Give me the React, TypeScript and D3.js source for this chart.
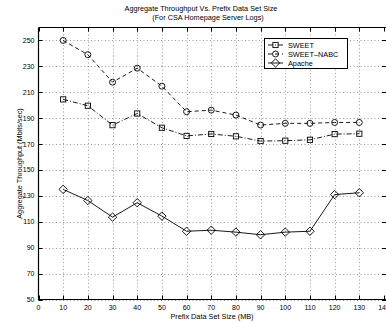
import React, { useRef, useEffect } from "react";
import * as d3 from "d3";

const sizes = [10, 20, 30, 40, 50, 60, 70, 80, 90, 100, 110, 120, 130];
const sweet = [204.5, 199.6, 184.6, 193.6, 182.6, 176.3, 177.8, 176, 172.3, 172.6, 173.3, 177.7, 178];
const sweetNabc = [250, 239, 217.8, 228.6, 214.7, 195, 196.2, 192.4, 184.7, 186, 186, 186.7, 186.7];
const apache = [135, 126.4, 113.6, 124.7, 114.4, 102.7, 103.5, 102, 100, 102, 102.7, 131, 132.4];
const xTicks = [0, 10, 20, 30, 40, 50, 60, 70, 80, 90, 100, 110, 120, 130, 140];
const yTicks = [50, 70, 90, 110, 130, 150, 170, 190, 210, 230, 250];
const seriesNames = ["SWEET", "SWEET\u2013NABC", "Apache"];

const App: React.FC = () => {
  const ref = useRef<SVGSVGElement | null>(null);

  useEffect(() => {
    const width = 386;
    const height = 323;
    const left = 38.5, right = 384, top = 27.5, bottom = 299.5;

    const x = d3.scaleLinear().domain([0, 140]).range([left, right]);
    const y = d3.scaleLinear().domain([50, 260]).range([bottom, top]);

    const svg = d3
      .select(ref.current)
      .attr("width", width)
      .attr("height", height)
      .style("position", "fixed")
      .style("left", "0px")
      .style("top", "0px")
      .style("background", "#fff")
      .style("font-family", "'Liberation Sans', Arial, sans-serif");
    svg.selectAll("*").remove();

    // grid
    const grid = svg.append("g").attr("stroke", "#555").attr("stroke-width", 0.6).attr("stroke-dasharray", "1,2.5");
    grid.selectAll("line.gx").data(xTicks.slice(1, -1)).join("line")
      .attr("x1", (d) => Math.round(x(d)) + 0.5).attr("x2", (d) => Math.round(x(d)) + 0.5)
      .attr("y1", top).attr("y2", bottom);
    grid.selectAll("line.gy").data(yTicks).join("line")
      .attr("y1", (d) => Math.round(y(d)) + 0.5).attr("y2", (d) => Math.round(y(d)) + 0.5)
      .attr("x1", left).attr("x2", right + 4);

    // axes box and inward ticks
    const ax = svg.append("g").attr("stroke", "#000").attr("stroke-width", 1);
    ax.append("line").attr("x1", left).attr("x2", left).attr("y1", top).attr("y2", bottom + 0.5).attr("stroke-width", 1.2);
    ax.append("line").attr("x1", left).attr("x2", width).attr("y1", bottom).attr("y2", bottom).attr("stroke-width", 1.2);
    ax.append("line").attr("x1", left).attr("x2", width).attr("y1", top).attr("y2", top);
    ax.selectAll("line.tx").data(xTicks).join("line")
      .attr("x1", (d) => Math.round(x(d)) + 0.5).attr("x2", (d) => Math.round(x(d)) + 0.5)
      .attr("y1", bottom).attr("y2", bottom - 4);
    ax.selectAll("line.tt").data(xTicks).join("line")
      .attr("x1", (d) => Math.round(x(d)) + 0.5).attr("x2", (d) => Math.round(x(d)) + 0.5)
      .attr("y1", top).attr("y2", top + 4);
    ax.selectAll("line.ty").data(yTicks).join("line")
      .attr("y1", (d) => Math.round(y(d)) + 0.5).attr("y2", (d) => Math.round(y(d)) + 0.5)
      .attr("x1", left).attr("x2", left + 4);
    ax.selectAll("line.tr").data(yTicks).join("line")
      .attr("y1", (d) => Math.round(y(d)) + 0.5).attr("y2", (d) => Math.round(y(d)) + 0.5)
      .attr("x1", right - 2).attr("x2", width);

    // tick labels
    svg.append("g").selectAll("text").data(xTicks).join("text")
      .attr("x", (d) => x(d)).attr("y", bottom + 10)
      .attr("text-anchor", "middle").attr("font-size", 7).text((d) => d);
    svg.append("g").selectAll("text").data(yTicks).join("text")
      .attr("x", left - 4).attr("y", (d) => y(d) + 2.5)
      .attr("text-anchor", "end").attr("font-size", 7).text((d) => d);

    // titles
    svg.append("text").attr("x", 201).attr("y", 11).attr("text-anchor", "middle")
      .attr("font-size", 7.3).text("Aggregate Throughput Vs. Prefix Data Set Size");
    svg.append("text").attr("x", 208).attr("y", 20).attr("text-anchor", "middle")
      .attr("font-size", 7.3).text("(For CSA Homepage Server Logs)");
    svg.append("text").attr("x", 212).attr("y", 319).attr("text-anchor", "middle")
      .attr("font-size", 7.3).text("Prefix Data Set Size (MB)");
    svg.append("text").attr("transform", `translate(22,${(top + bottom) / 2}) rotate(-90)`)
      .attr("text-anchor", "middle").attr("font-size", 7.3).text("Aggregate Throughput (Mbits/sec)");

    const line = d3.line<number>().x((_, i) => x(sizes[i])).y((d) => y(d));
    const series = [
      { values: sweet, dash: "5,2,1,2", marker: "square" },
      { values: sweetNabc, dash: "4,3", marker: "circle" },
      { values: apache, dash: null, marker: "diamond" },
    ];

    const drawMarker = (g: any, type: string, cx: number, cy: number) => {
      if (type === "square") {
        g.append("rect").attr("x", cx - 2.6).attr("y", cy - 2.6).attr("width", 5.2).attr("height", 5.2)
          .attr("fill", "none").attr("stroke", "#000").attr("stroke-width", 0.9);
      } else if (type === "circle") {
        g.append("circle").attr("cx", cx).attr("cy", cy).attr("r", 3)
          .attr("fill", "none").attr("stroke", "#000").attr("stroke-width", 0.9);
      } else {
        g.append("path").attr("d", `M${cx},${cy - 4.2}L${cx + 4.2},${cy}L${cx},${cy + 4.2}L${cx - 4.2},${cy}Z`)
          .attr("fill", "none").attr("stroke", "#000").attr("stroke-width", 0.9);
      }
    };

    series.forEach((s) => {
      const g = svg.append("g");
      g.append("path").attr("d", line(s.values)).attr("fill", "none").attr("stroke", "#000")
        .attr("stroke-width", 0.9).attr("stroke-dasharray", s.dash);
      s.values.forEach((v, i) => drawMarker(g, s.marker, x(sizes[i]), y(v)));
    });

    // legend
    const lg = svg.append("g");
    lg.append("rect").attr("x", 264.5).attr("y", 38.5).attr("width", 83).attr("height", 30)
      .attr("fill", "#fff").attr("stroke", "#000").attr("stroke-width", 1);
    series.forEach((s, i) => {
      const ly = 45 + i * 9;
      lg.append("line").attr("x1", 268).attr("x2", 283).attr("y1", ly).attr("y2", ly)
        .attr("stroke", "#000").attr("stroke-width", 0.9).attr("stroke-dasharray", s.dash);
      drawMarker(lg, s.marker, 275.5, ly);
      lg.append("text").attr("x", 288).attr("y", ly + 2.6).attr("font-size", 7.3).text(seriesNames[i]);
    });
  }, []);

  return <svg ref={ref}></svg>;
};

export default App;
